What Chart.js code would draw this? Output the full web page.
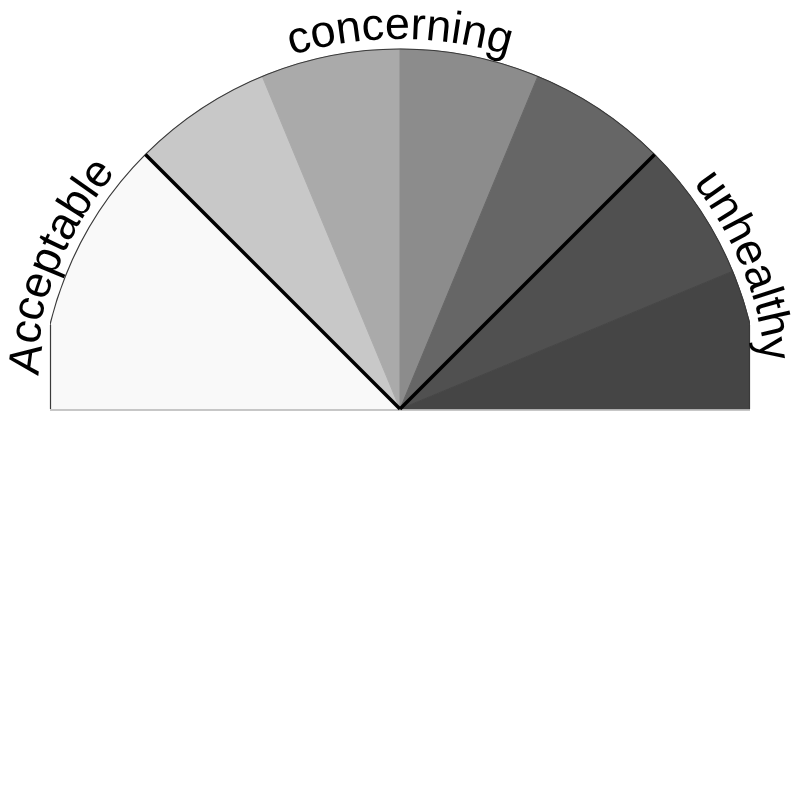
<!DOCTYPE html>
<html><head><meta charset="utf-8">
<script src="https://cdn.jsdelivr.net/npm/chart.js@4.4.1/dist/chart.umd.min.js"></script>
<style>html,body{margin:0;padding:0;background:#fff;}#wrap{width:800px;height:800px;}</style>
</head><body><div id="wrap"><canvas id="c" width="800" height="800"></canvas></div>
<script>
// ---- data ----
const segmentLabels = ['Acceptable', 'Concerning 1', 'Concerning 2', 'Concerning 3', 'Concerning 4', 'Unhealthy 1', 'Unhealthy 2'];
const segmentValues = [2, 1, 1, 1, 1, 1, 1];
const segmentColors = ['#f9f9f9', '#c8c8c8', '#aaaaaa', '#8c8c8c', '#666666', '#505050', '#454545'];
const groupLabels = ['Acceptable', 'concerning', 'unhealthy'];
const groupSizes = [1, 4, 2]; // number of segments in each group

const gaugePlugin = {
  id: 'gauge',
  afterDatasetsDraw(chart) {
    const ctx = chart.ctx;
    const area = chart.chartArea;
    const arcs = chart.getDatasetMeta(0).data;
    const cx = arcs[0].x, cy = arcs[0].y, R = arcs[0].outerRadius;
    const halfW = Math.min(cx - area.left, area.right - cx);
    const outlineR = (a) => Math.min(R, halfW / Math.max(Math.abs(Math.cos(a)), 1e-6));
    ctx.save();
    // bottom edge
    ctx.strokeStyle = '#b4b4b4'; ctx.lineWidth = 1.5;
    ctx.beginPath(); ctx.moveTo(cx - halfW, cy + 1); ctx.lineTo(cx + halfW, cy + 1); ctx.stroke();
    // outer outline (arc clipped to plot width + straight sides)
    ctx.save();
    ctx.beginPath(); ctx.rect(cx - halfW, 0, 2 * halfW, cy + 2); ctx.clip();
    ctx.strokeStyle = '#3a3a3a'; ctx.lineWidth = 1.2;
    ctx.beginPath(); ctx.arc(cx, cy, R, Math.PI, 2 * Math.PI); ctx.stroke();
    ctx.restore();
    if (halfW < R) {
      const h = Math.sqrt(R * R - halfW * halfW);
      ctx.strokeStyle = '#3a3a3a'; ctx.lineWidth = 1.2;
      ctx.beginPath();
      ctx.moveTo(cx - halfW + 0.5, cy - h); ctx.lineTo(cx - halfW + 0.5, cy);
      ctx.moveTo(cx + halfW - 0.5, cy - h); ctx.lineTo(cx + halfW - 0.5, cy);
      ctx.stroke();
    }
    // group separators
    let idx = 0;
    ctx.strokeStyle = '#000'; ctx.lineWidth = 3.5; ctx.lineCap = 'butt';
    groupSizes.forEach((n) => {
      idx += n;
      if (idx < arcs.length) {
        const a = arcs[idx].startAngle;
        const r = outlineR(a);
        ctx.beginPath(); ctx.moveTo(cx, cy);
        ctx.lineTo(cx + r * Math.cos(a), cy + r * Math.sin(a)); ctx.stroke();
      }
    });
    // curved labels following the outline
    ctx.fillStyle = '#000';
    ctx.font = '45px "Liberation Sans", Arial, sans-serif';
    ctx.textAlign = 'center'; ctx.textBaseline = 'alphabetic';
    const gap = 10;
    const textR = (a) => outlineR(a) + gap;
    let first = 0;
    groupLabels.forEach((lab, g) => {
      const last = first + groupSizes[g] - 1;
      const mid = (arcs[first].startAngle + arcs[last].endAngle) / 2;
      first = last + 1;
      const prefix = [];
      for (let i = 0; i <= lab.length; i++) prefix.push(ctx.measureText(lab.slice(0, i)).width);
      let a0 = mid - prefix[lab.length] / (2 * (R + gap));
      let placed = [];
      for (let it = 0; it < 6; it++) {
        placed = [];
        let a = a0;
        for (let i = 0; i < lab.length; i++) {
          const w = prefix[i + 1] - prefix[i];
          const r = textR(a + w / (2 * (R + gap)));
          placed.push({ ch: lab[i], a: a + (w / 2) / r, r: r });
          a += w / r;
        }
        a0 += mid - (a0 + a) / 2;
      }
      placed.forEach((p) => {
        ctx.save();
        ctx.translate(cx + p.r * Math.cos(p.a), cy + p.r * Math.sin(p.a));
        ctx.rotate(p.a + Math.PI / 2);
        ctx.fillText(p.ch, 0, 0);
        ctx.restore();
      });
    });
    ctx.restore();
  }
};

new Chart(document.getElementById('c'), {
  type: 'doughnut',
  data: {
    labels: segmentLabels,
    datasets: [{
      data: segmentValues,
      backgroundColor: segmentColors,
      borderColor: segmentColors,
      borderWidth: 1,
      hoverOffset: 0,
      clip: 0
    }]
  },
  options: {
    responsive: false,
    animation: false,
    devicePixelRatio: 1,
    events: [],
    rotation: -90,
    circumference: 180,
    cutout: 0,
    radius: 360,
    layout: { padding: { top: 0, left: 50, right: 50, bottom: 342 } },
    plugins: { legend: { display: false }, tooltip: { enabled: false } }
  },
  plugins: [gaugePlugin]
});
</script>
</body></html>
